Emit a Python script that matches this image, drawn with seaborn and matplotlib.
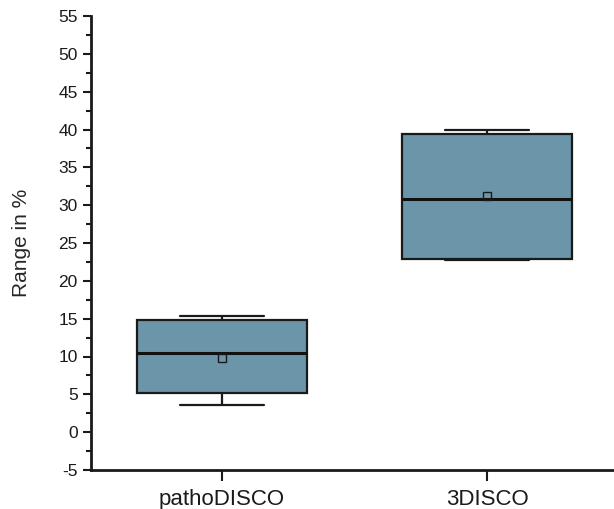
import pandas as pd
import matplotlib
matplotlib.use('Agg')
import matplotlib.pyplot as plt
import seaborn as sns
from matplotlib.ticker import MultipleLocator

# five-number summaries (min, q1, median, q3, max)
categories = ['pathoDISCO', '3DISCO']
patho_vals = [3.6, 5.15, 10.4, 14.8, 15.3]
disco_vals = [22.8, 22.9, 30.8, 39.4, 40.0]

df = pd.DataFrame({
    'method': [categories[0]] * len(patho_vals) + [categories[1]] * len(disco_vals),
    'range': patho_vals + disco_vals,
})

sns.set_style('ticks')
plt.rcParams['font.family'] = ['Liberation Sans', 'DejaVu Sans']
plt.rcParams['axes.unicode_minus'] = False

fig = plt.figure(figsize=(6.14, 5.09), dpi=100)
ax = fig.add_axes([91 / 614, 39 / 509, 523 / 614, 454 / 509])

sns.boxplot(data=df, x='method', y='range', order=categories, ax=ax,
            whis=(0, 100), width=0.64, color='#6b95a8', saturation=1,
            linecolor='#1a1a1a', linewidth=1.6, showmeans=True,
            meanprops=dict(marker='s', markerfacecolor='none',
                           markeredgecolor='#1a1a1a', markersize=6,
                           markeredgewidth=1),
            medianprops=dict(linewidth=2.2, color='#111111'))

ax.set_xlim(-0.494, 1.479)
ax.set_ylim(-5, 55)
ax.yaxis.set_major_locator(MultipleLocator(5))
ax.yaxis.set_minor_locator(MultipleLocator(2.5))
ax.set_xlabel('')
ax.set_ylabel('Range in %', fontsize=15, labelpad=20)
ax.tick_params(axis='y', which='major', length=6, width=1.5, labelsize=12.5, colors='#1a1a1a')
ax.tick_params(axis='y', which='minor', length=3.5, width=1.5, colors='#1a1a1a')
ax.tick_params(axis='x', length=8, width=1.5, labelsize=16, pad=6, colors='#1a1a1a')
sns.despine(ax=ax)
for s in ['left', 'bottom']:
    ax.spines[s].set_linewidth(2)
    ax.spines[s].set_color('#1a1a1a')

fig.savefig('out.png', dpi=100)
